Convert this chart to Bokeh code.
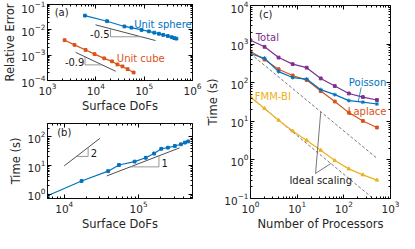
import numpy as np
from bokeh.plotting import figure
from bokeh.models import LogAxis, FixedTicker, Label, CustomJSTickFormatter, Range1d
from bokeh.layouts import row, column
from bokeh.embed import file_html
from bokeh.resources import INLINE

# ---------------- data ----------------
# (a) relative error vs surface DoFs
sphere_dofs = [5950, 17100, 39000, 54500, 88500, 125000, 162000, 202000, 248000, 308000, 372000, 420000, 465000]
sphere_err = [3.64e-2, 2.19e-2, 1.36e-2, 1.22e-2, 9.9e-3, 8.7e-3, 7.7e-3, 7.0e-3, 6.3e-3, 5.7e-3, 5.1e-3, 4.7e-3, 4.5e-3]
cube_dofs = [2260, 3620, 6140, 9420, 14900, 21600, 28000, 35600, 45400, 60500]
cube_err = [3.9e-3, 2.55e-3, 1.61e-3, 1.10e-3, 7.5e-4, 5.7e-4, 4.3e-4, 3.6e-4, 2.8e-4, 2.07e-4]

# (b) time vs surface DoFs
time_dofs = sphere_dofs
time_s = [0.89, 2.9, 6.4, 10.5, 13.8, 18.8, 26.4, 38.7, 42.3, 48.4, 55.5, 63.5, 69.8]

# (c) strong scaling
procs = [1, 2, 4, 8, 16, 32, 64, 128, 256, 512]
t_total = [1259, 851, 448, 303, 245, 129, 82, 52.6, 42.5, 35.6]
t_poisson = [564, 431, 193, 136, 124, 66, 49, 34.3, 31.3, 28.1]
t_laplace = [641, 396, 223, 154, 117, 60.8, 32.5, 16.8, 10.2, 6.9]
t_fmm = [42.5, 21.5, 10.7, 5.6, 3.2, 1.77, 0.96, 0.585, 0.41, 0.30]

BLUE = "#0072BD"
ORANGE = "#D95319"
YELLOW = "#EDB120"
PURPLE = "#7E2F8E"
GUIDE = "#3a3a3a"
TRI = "#8c8c8c"
FONT = "DejaVu Sans"


def decades(lo, hi):
    return [10.0 ** e for e in range(lo, hi + 1)]


def minors(lo, hi):
    return [k * 10.0 ** e for e in range(lo, hi) for k in range(2, 10)]


def make_fig(w, h, xr, yr, xt, yt, mb, xlabel, ylabel):
    p = figure(width=w, height=h, x_axis_type="log", y_axis_type="log",
               x_range=Range1d(*xr), y_range=Range1d(*yr),
               output_backend="svg", toolbar_location=None,
               min_border_left=mb[0], min_border_right=mb[1],
               min_border_top=mb[2], min_border_bottom=mb[3])
    p.grid.visible = False
    p.outline_line_color = "black"
    p.outline_line_width = 0.8
    p.background_fill_color = "white"
    p.border_fill_color = "white"
    xtick = FixedTicker(ticks=decades(*xt), minor_ticks=minors(xt[0] - 1, xt[1] + 1))
    ytick = FixedTicker(ticks=decades(*yt), minor_ticks=minors(yt[0] - 1, yt[1] + 1))
    p.xaxis.ticker = xtick
    p.yaxis.ticker = ytick
    p.xaxis.axis_label = xlabel
    p.yaxis.axis_label = ylabel
    extra = [LogAxis(ticker=xtick), LogAxis(ticker=ytick)]
    p.add_layout(extra[0], "above")
    p.add_layout(extra[1], "right")
    for ax in extra:
        ax.formatter = CustomJSTickFormatter(code="return ''")
    for ax in p.xaxis + p.yaxis + extra:
        ax.major_tick_in = 4
        ax.major_tick_out = 0
        ax.minor_tick_in = 2
        ax.minor_tick_out = 0
        ax.axis_line_color = "black"
        ax.axis_line_width = 0.8
        ax.major_tick_line_color = "black"
        ax.minor_tick_line_color = "black"
        ax.major_label_text_font = FONT
        ax.major_label_text_font_size = "10.5px"
        ax.major_label_text_color = "#262626"
        ax.major_label_standoff = 2
        ax.axis_label_text_font = FONT
        ax.axis_label_text_font_size = "11.5px"
        ax.axis_label_text_font_style = "normal"
        ax.axis_label_text_color = "#262626"
        ax.axis_label_standoff = 1
    for ax in extra:
        ax.major_label_standoff = 0
    return p


def label(p, x, y, text, color="#1a1a1a", align="left", size="10px"):
    p.add_layout(Label(x=x, y=y, text=text, text_color=color, text_font=FONT,
                       text_font_size=size, text_align=align, text_baseline="middle"))


def guide(p, x0, x1, y0, slope, tri_x, color=GUIDE, dash="solid"):
    xs = [x0, x1]
    ys = [y0 * (x / x0) ** slope for x in xs]
    p.line(xs, ys, line_color=color, line_width=0.9, line_dash=dash)
    ta, tb = tri_x
    ya, yb = y0 * (ta / x0) ** slope, y0 * (tb / x0) ** slope
    if slope < 0:
        p.line([ta, ta, tb], [ya, yb, yb], line_color=TRI, line_width=0.9)
    else:
        p.line([ta, tb, tb], [ya, ya, yb], line_color=TRI, line_width=0.9)


# ---------------- (a) ----------------
pa = make_fig(203, 115, (1e3, 1e6), (1e-4, 1e-1), (3, 6), (-4, -1),
              (33, 11, 4, 28), "Surface DoFs", "Relative Error")
pa.line(sphere_dofs, sphere_err, line_color=BLUE, line_width=1.2)
pa.scatter(sphere_dofs, sphere_err, marker="square", size=2.8, color=BLUE)
pa.line(cube_dofs, cube_err, line_color=ORANGE, line_width=1.2)
pa.scatter(cube_dofs, cube_err, marker="square", size=2.8, color=ORANGE)
guide(pa, 9840, 172000, 0.0158, -0.5, (20100, 86500))
guide(pa, 3830, 25700, 1.285e-3, -0.9, (5980, 13500))
label(pa, 1410, 0.0468, "(a)")
label(pa, 62000, 0.0161, "Unit sphere", BLUE)
label(pa, 27200, 7.2e-4, "Unit cube", ORANGE)
label(pa, 19300, 6.7e-3, "-0.5", align="right")
label(pa, 5800, 5.3e-4, "-0.9", align="right")

# ---------------- (b) ----------------
pb = make_fig(203, 118, (5950, 532000), (0.71, 295), (4, 5), (0, 2),
              (31, 11, 8, 25), "Surface DoFs", "Time (s)")
pb.line(time_dofs, time_s, line_color=BLUE, line_width=1.2)
pb.scatter(time_dofs, time_s, marker="square", size=2.8, color=BLUE)
guide(pb, 10000, 30200, 9.8, 2.0, (14600, 20960))
guide(pb, 37300, 356000, 4.35, 1.0, (77400, 188000))
label(pb, 8030, 140, "(b)")
label(pb, 22800, 27.6, "2")
label(pb, 204000, 12.8, "1")

# ---------------- (c) ----------------
pc = make_fig(196, 233, (1, 1000), (0.1, 1e4), (0, 3), (-1, 4),
              (29, 9, 5, 24), "Number of Processors", "Time (s)")
ideal_hi = [t_poisson[0] / q for q in (procs[0], procs[-1])]
ideal_lo = [t_fmm[0] / q for q in (procs[0], procs[-1])]
pc.line([procs[0], procs[-1]], ideal_hi, line_color="#555555", line_width=0.8, line_dash="3 2")
pc.line([procs[0], procs[-1]], ideal_lo, line_color="#555555", line_width=0.8, line_dash="3 2")
series = [(t_total, PURPLE, "square", 2.8), (t_laplace, ORANGE, "square", 2.8),
          (t_poisson, BLUE, "asterisk", 4), (t_fmm, YELLOW, "triangle", 3.5)]
for ys, col, mk, sz in series:
    pc.line(procs, ys, line_color=col, line_width=1.2)
    pc.scatter(procs, ys, marker=mk, size=sz, color=col, line_color=col)
# leader lines
pc.line([24.8, 32], [0.448, 17.6], line_color="#555555", line_width=0.8)
pc.line([24.8, 52.7], [0.448, 0.806], line_color="#555555", line_width=0.8)
pc.line([235, 204], [75.3, 32.5], line_color=BLUE, line_width=0.8)
label(pc, 1.53, 5760, "(c)")
label(pc, 1.29, 1510, "Total", PURPLE)
label(pc, 128, 104, "Poisson", BLUE)
label(pc, 122, 18.0, "Laplace", ORANGE)
label(pc, 1.24, 44.8, "FMM-BI", YELLOW)
label(pc, 6.81, 0.297, "Ideal scaling")

layout = row(column(pa, pb), pc)
open("out.html", "w").write(file_html(layout, INLINE))
